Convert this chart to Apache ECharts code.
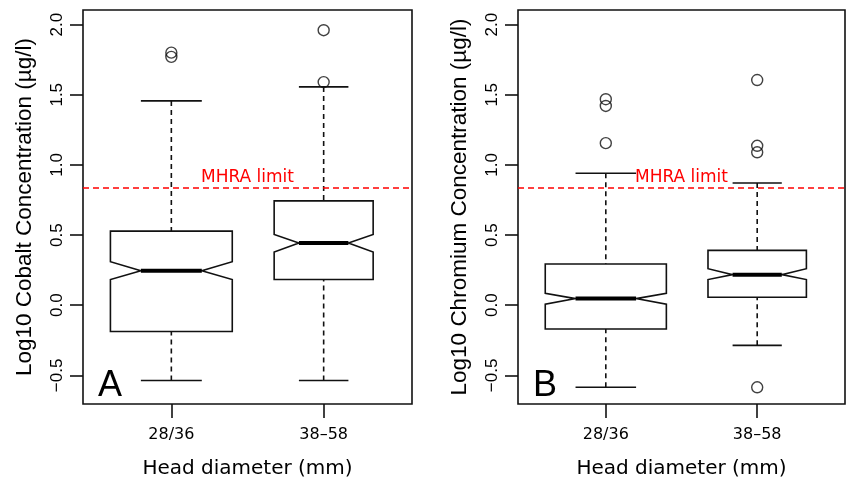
<!DOCTYPE html>
<html>
<head>
<meta charset="utf-8">
<script src="https://cdn.jsdelivr.net/npm/echarts@6/dist/echarts.min.js"></script>
<style>
  html, body { margin: 0; padding: 0; background: #fff; }
  #main { width: 848px; height: 484px; }
</style>
</head>
<body>
<div id="main"></div>
<script>
// groups on the x axis
var categories = ['28/36', '38\u201358'];
var yTicks = [-0.5, 0, 0.5, 1, 1.5, 2];
var mhraLimit = 0.845; // log10(7 ug/l)

// box stats: lower whisker, Q1, notch low, median, notch high, Q3, upper whisker
var cobaltStats = [
    [-0.537, -0.187, 0.183, 0.246, 0.310, 0.528, 1.456],
    [-0.537, 0.183, 0.379, 0.443, 0.504, 0.744, 1.556]
];
var cobaltOutliers = [[1, 1.80], [1, 1.77], [2, 1.96], [2, 1.59]];

var chromiumStats = [
    [-0.585, -0.170, 0.007, 0.047, 0.085, 0.294, 0.940],
    [-0.286, 0.057, 0.183, 0.218, 0.260, 0.391, 0.871]
];
var chromiumOutliers = [[1, 1.468], [1, 1.42], [1, 1.155], [2, 1.605], [2, 1.136], [2, 1.09], [2, -0.585]];

// half box width per group in x units (varwidth)
var boxHalf = [0.4, 0.325];

var FONT_H = 'DejaVu Sans';
var FONT_V = 'Liberation Sans';

function renderBox(params, api) {
    var x = api.value(0);
    var w = boxHalf[params.dataIndex];
    var lw = api.value(1), q1 = api.value(2), nlo = api.value(3), med = api.value(4),
        nhi = api.value(5), q3 = api.value(6), uw = api.value(7);
    var p = function (dx, y) { return api.coord([x + dx, y]); };
    var solid = { stroke: '#111', lineWidth: 1.6, fill: null };
    var dashed = { stroke: '#111', lineWidth: 1.6, lineDash: [5, 4], fill: null };
    var line = function (a, b, style) {
        return { type: 'line', shape: { x1: a[0], y1: a[1], x2: b[0], y2: b[1] }, style: style };
    };
    return {
        type: 'group',
        children: [
            line(p(0, uw), p(0, q3), dashed),
            line(p(0, lw), p(0, q1), dashed),
            line(p(-w / 2, uw), p(w / 2, uw), solid),
            line(p(-w / 2, lw), p(w / 2, lw), solid),
            {
                type: 'polygon',
                shape: { points: [p(-w, q1), p(-w, nlo), p(-w / 2, med), p(-w, nhi), p(-w, q3),
                                  p(w, q3), p(w, nhi), p(w / 2, med), p(w, nlo), p(w, q1)] },
                style: { stroke: '#111', lineWidth: 1.6, fill: '#fff' }
            },
            line(p(-w / 2, med), p(w / 2, med), { stroke: '#000', lineWidth: 4 })
        ]
    };
}

function boxData(stats) {
    return stats.map(function (s, i) { return [i + 1].concat(s); });
}

function fmtY(v) {
    return (v < 0 ? '\u2212' : '') + Math.abs(v).toFixed(1);
}

function makeX(idx) {
    return {
        gridIndex: idx, type: 'value', min: 0.42, max: 2.58,
        axisLine: { show: false, onZero: false },
        splitLine: { show: false },
        axisTick: { show: true, customValues: [1, 2], length: 14, lineStyle: { color: '#111', width: 1.6 } },
        axisLabel: {
            customValues: [1, 2], margin: 23, color: '#000', fontSize: 16, fontFamily: FONT_H,
            formatter: function (v) { return categories[Math.round(v) - 1]; }
        },
        name: 'Head diameter (mm)', nameLocation: 'middle', nameGap: 55,
        nameTextStyle: { color: '#000', fontSize: 20, fontFamily: FONT_H }
    };
}

function makeY(idx, name) {
    return {
        gridIndex: idx, type: 'value', min: -0.704, max: 2.104,
        axisLine: { show: false, onZero: false },
        splitLine: { show: false },
        axisTick: { show: true, customValues: yTicks, length: 13, lineStyle: { color: '#111', width: 1.6 } },
        axisLabel: {
            customValues: yTicks, rotate: 90, margin: 17, color: '#000', fontSize: 17, fontFamily: FONT_V,
            formatter: fmtY
        },
        name: name, nameLocation: 'middle', nameRotate: 90, nameGap: 47,
        nameTextStyle: { color: '#000', fontSize: 22.5, fontFamily: FONT_V }
    };
}

function mhraLine() {
    return {
        silent: true, symbol: ['none', 'none'],
        lineStyle: { color: '#f00', type: [6, 4], width: 1.6 },
        label: { show: true, position: 'insideMiddleTop', formatter: 'MHRA limit', color: '#f00',
                 fontSize: 17, fontFamily: FONT_H, distance: 1 },
        data: [{ yAxis: mhraLimit }]
    };
}

var myChart = echarts.init(document.getElementById('main'));
var option = {
    animation: false,
    grid: [
        { left: 83, top: 10, width: 329, height: 396, show: true, borderColor: '#111', borderWidth: 1.6 },
        { left: 518, top: 10, width: 327, height: 396, show: true, borderColor: '#111', borderWidth: 1.6 }
    ],
    xAxis: [makeX(0), makeX(1)],
    yAxis: [makeY(0, 'Log10 Cobalt Concentration (\u00b5g/l)'), makeY(1, 'Log10 Chromium Concentration (\u00b5g/l)')],
    graphic: [
        { type: 'text', left: 98, top: 368, style: { text: 'A', font: '36px "Liberation Sans"', fill: '#000' } },
        { type: 'text', left: 533, top: 368, style: { text: 'B', font: '36px "Liberation Sans"', fill: '#000' } }
    ],
    series: [
        { type: 'custom', xAxisIndex: 0, yAxisIndex: 0, renderItem: renderBox, data: boxData(cobaltStats),
          encode: { x: 0, y: [1, 2, 3, 4, 5, 6, 7] } },
        { type: 'scatter', xAxisIndex: 0, yAxisIndex: 0, data: cobaltOutliers, symbol: 'circle', symbolSize: 11,
          itemStyle: { color: 'rgba(0,0,0,0)', borderColor: '#111', borderWidth: 1.4 }, markLine: mhraLine() },
        { type: 'custom', xAxisIndex: 1, yAxisIndex: 1, renderItem: renderBox, data: boxData(chromiumStats),
          encode: { x: 0, y: [1, 2, 3, 4, 5, 6, 7] } },
        { type: 'scatter', xAxisIndex: 1, yAxisIndex: 1, data: chromiumOutliers, symbol: 'circle', symbolSize: 11,
          itemStyle: { color: 'rgba(0,0,0,0)', borderColor: '#111', borderWidth: 1.4 }, markLine: mhraLine() }
    ]
};
myChart.setOption(option);
</script>
</body>
</html>
